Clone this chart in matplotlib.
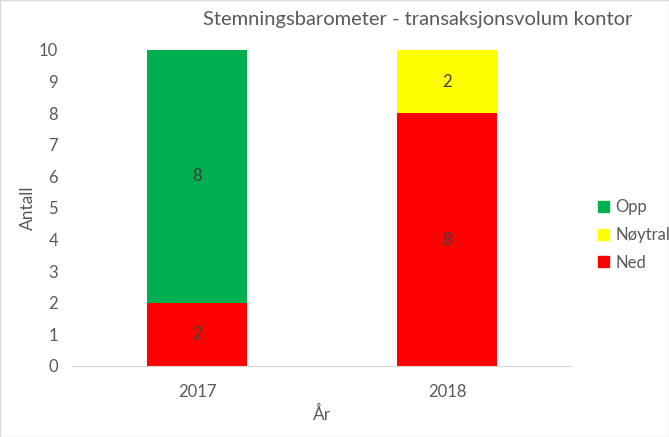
import numpy as np
import matplotlib.pyplot as plt
from matplotlib.patches import Patch

years = ["2017", "2018"]
ned = [2, 8]
noytral = [0, 2]
opp = [8, 0]

RED = "#FF0000"
YELLOW = "#FFFF00"
GREEN = "#00B050"
TXT = "#595959"

plt.rcParams['font.family'] = ['Lato', 'DejaVu Sans']

fig = plt.figure(figsize=(6.69, 4.37), dpi=100)
ax = fig.add_axes([72/669, 71/437, 500/669, 316/437])

x = np.arange(len(years))
w = 0.4
b1 = ax.bar(x, ned, w, color=RED, label="Ned")
b2 = ax.bar(x, noytral, w, bottom=ned, color=YELLOW, label="Nøytral")
bottom3 = np.array(ned) + np.array(noytral)
b3 = ax.bar(x, opp, w, bottom=bottom3, color=GREEN, label="Opp")

# value labels in the middle of each segment
for bars, vals, bots in [(b1, ned, [0, 0]), (b2, noytral, ned), (b3, opp, bottom3)]:
    for xi, v, bo in zip(x, vals, bots):
        if v > 0:
            ax.text(xi, bo + v / 2, str(v), ha='center', va='center',
                    fontsize=12, color="#404040")

ax.set_xlim(-0.5, 1.5)
ax.set_ylim(0, 10)
ax.set_yticks(range(0, 11))
ax.set_xticks(x)
ax.set_xticklabels(years)
ax.tick_params(axis='y', length=0, labelsize=12, colors=TXT, pad=10)
ax.tick_params(axis='x', length=0, labelsize=12, colors=TXT, pad=13)
for s in ["top", "right", "left"]:
    ax.spines[s].set_visible(False)
ax.spines["bottom"].set_color("#D9D9D9")

ax.set_ylabel("Antall", fontsize=12.5, color=TXT, labelpad=2)
ax.set_xlabel("År", fontsize=12.5, color=TXT, labelpad=4)

fig.text(418/669, 1 - 20/437, "Stemningsbarometer - transaksjonsvolum kontor",
         ha='center', va='center', fontsize=14.5, color=TXT)

handles = [Patch(color=GREEN), Patch(color=YELLOW), Patch(color=RED)]
fig.legend(handles, ["Opp", "Nøytral", "Ned"], loc='center left',
           bbox_to_anchor=(583/669, 1 - 235/437), frameon=False,
           fontsize=12, labelcolor=TXT, handlelength=0.65, handleheight=0.65,
           handletextpad=0.4, labelspacing=0.7)

fig.patches.append(plt.Rectangle((0, 0), 1, 1, transform=fig.transFigure,
                                 fill=False, edgecolor="#D9D9D9", lw=1))

fig.savefig("out.png", dpi=100)
